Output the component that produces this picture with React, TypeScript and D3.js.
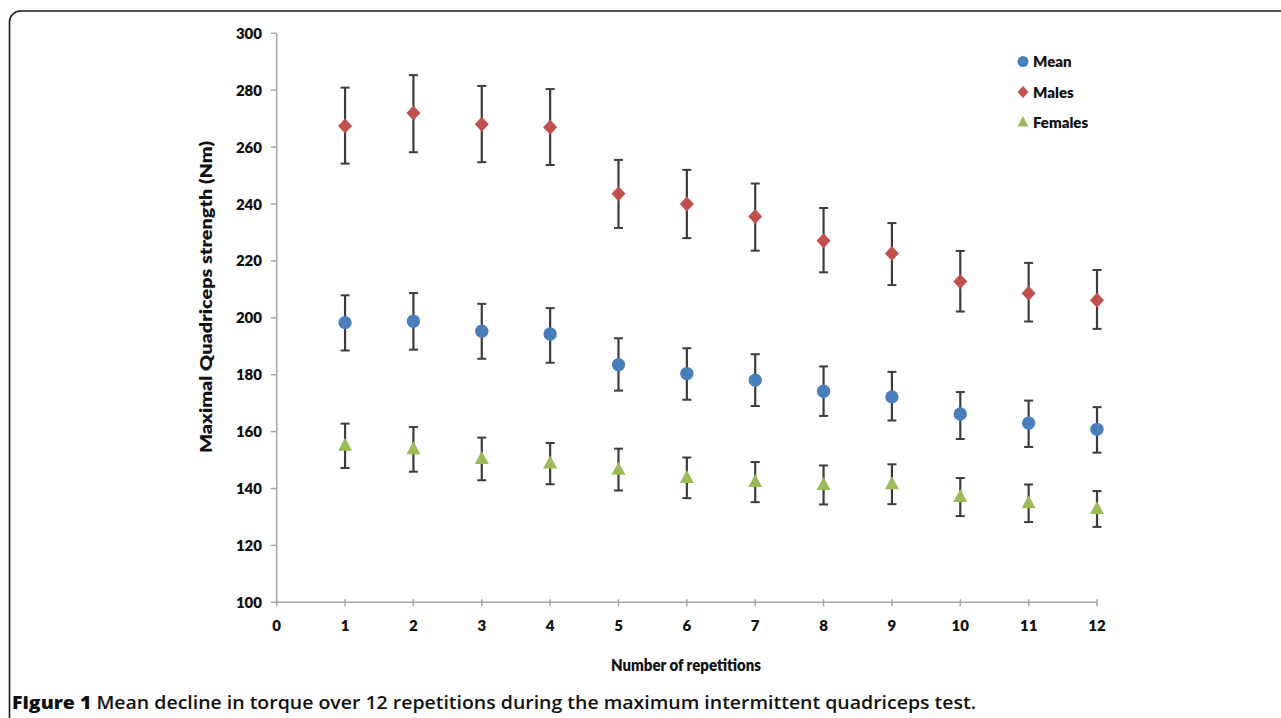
import React from "react";
import * as d3 from "d3";

const reps = [1, 2, 3, 4, 5, 6, 7, 8, 9, 10, 11, 12];

const meanValues = [198.3, 198.8, 195.3, 194.3, 183.5, 180.4, 178.1, 174.2, 172.2, 166.2, 163.0, 160.8];
const meanUpper = [207.9, 208.7, 204.9, 203.4, 192.8, 189.3, 187.2, 182.9, 181.0, 173.9, 170.9, 168.6];
const meanLower = [188.5, 188.8, 185.6, 184.2, 174.4, 171.2, 169.0, 165.5, 163.9, 157.4, 154.6, 152.6];

const maleValues = [267.4, 272.0, 268.0, 267.0, 243.6, 240.0, 235.6, 227.1, 222.6, 212.8, 208.6, 206.2];
const maleUpper = [280.9, 285.3, 281.5, 280.4, 255.5, 252.0, 247.2, 238.6, 233.3, 223.5, 219.3, 216.8];
const maleLower = [254.2, 258.2, 254.7, 253.7, 231.6, 228.0, 223.6, 216.0, 211.5, 202.2, 198.7, 196.1];

const femaleValues = [155.0, 153.8, 150.4, 148.8, 146.6, 143.7, 142.3, 141.2, 141.5, 137.0, 134.8, 132.8];
const femaleUpper = [162.8, 161.6, 157.9, 156.0, 154.0, 150.9, 149.3, 148.1, 148.5, 143.7, 141.4, 139.1];
const femaleLower = [147.2, 145.9, 142.9, 141.5, 139.3, 136.6, 135.2, 134.4, 134.5, 130.3, 128.2, 126.5];

const xTicks = [0, 1, 2, 3, 4, 5, 6, 7, 8, 9, 10, 11, 12];
const yTicks = [100, 120, 140, 160, 180, 200, 220, 240, 260, 280, 300];

const legendLabels = ["Mean", "Males", "Females"];

const W = 1281;
const H = 718;

const x = d3.scaleLinear().domain([0, 12]).range([276.7, 1097]);
const y = d3.scaleLinear().domain([100, 300]).range([602.3, 33.3]);

const BLUE = "#4a7ebb";
const RED = "#c0504d";
const GREEN = "#9bbb59";
const BAR = "#3c3c3c";
const AXIS = "#a6a6a6";
const FONT = "Lato, 'Open Sans', sans-serif";

const circlePath = d3.symbol().type(d3.symbolCircle).size(140)() as string;
const diamondPath = "M0,-7.5L7,0L0,7.5L-7,0Z";
const trianglePath = "M0,-8L7,5L-7,5Z";

const legendShapes = [
  d3.symbol().type(d3.symbolCircle).size(95)() as string,
  "M0,-6L5.5,0L0,6L-5.5,0Z",
  "M0,-6.5L5.5,4L-5.5,4Z",
];
const legendColors = [BLUE, RED, GREEN];

type Series = { vals: number[]; up: number[]; lo: number[]; path: string; color: string };

const series: Series[] = [
  { vals: maleValues, up: maleUpper, lo: maleLower, path: diamondPath, color: RED },
  { vals: meanValues, up: meanUpper, lo: meanLower, path: circlePath, color: BLUE },
  { vals: femaleValues, up: femaleUpper, lo: femaleLower, path: trianglePath, color: GREEN },
];

export default function App() {
  return (
    <div style={{ position: "fixed", left: 0, top: 0, width: W, height: H, background: "#fff" }}>
      <svg width={W} height={H} viewBox={`0 0 ${W} ${H}`} style={{ display: "block" }}>
        <rect x={0} y={0} width={W} height={H} fill="#fff" />
        {/* frame */}
        <path d={`M9.5,${H + 5}L9.5,22A11,11 0 0 1 20.5,11L${W + 5},11`} fill="none" stroke="#1a1a1a" strokeWidth={1.6} />

        {/* axes */}
        <line x1={x(0)} x2={x(0)} y1={y(300)} y2={y(100)} stroke={AXIS} strokeWidth={1.5} />
        <line x1={x(0)} x2={x(12)} y1={y(100)} y2={y(100)} stroke={AXIS} strokeWidth={1.5} />
        {yTicks.map((t) => (
          <g key={"yt" + t}>
            <line x1={x(0) - 6} x2={x(0)} y1={y(t)} y2={y(t)} stroke={AXIS} strokeWidth={1.5} />
            <text x={262} y={y(t) + 5.5} textAnchor="end" fontFamily={FONT} fontWeight={800} fontSize={15} fill="#111">
              {t}
            </text>
          </g>
        ))}
        {xTicks.map((t) => (
          <g key={"xt" + t}>
            <line x1={x(t)} x2={x(t)} y1={y(100) - 3} y2={y(100) + 4} stroke={AXIS} strokeWidth={1.5} />
            <text x={x(t)} y={630.5} textAnchor="middle" fontFamily={FONT} fontWeight={800} fontSize={15} fill="#111">
              {t}
            </text>
          </g>
        ))}

        {/* error bars and markers */}
        {series.map((s, si) => (
          <g key={"s" + si}>
            {reps.map((r, i) => (
              <g key={"e" + i}>
                <line x1={x(r)} x2={x(r)} y1={y(s.up[i])} y2={y(s.lo[i])} stroke={BAR} strokeWidth={2.2} />
                <line x1={x(r) - 4.5} x2={x(r) + 4.5} y1={y(s.up[i])} y2={y(s.up[i])} stroke={BAR} strokeWidth={2} />
                <line x1={x(r) - 4.5} x2={x(r) + 4.5} y1={y(s.lo[i])} y2={y(s.lo[i])} stroke={BAR} strokeWidth={2} />
              </g>
            ))}
            {reps.map((r, i) => (
              <path key={"m" + i} d={s.path} transform={`translate(${x(r)},${y(s.vals[i])})`} fill={s.color} />
            ))}
          </g>
        ))}

        {/* legend */}
        {legendLabels.map((l, i) => (
          <g key={"lg" + i} transform={`translate(1023,${61.5 + i * 30.5})`}>
            <path d={legendShapes[i]} fill={legendColors[i]} />
            <text x={10} y={5.5} fontFamily={FONT} fontWeight={800} fontSize={15} fill="#111">
              {l}
            </text>
          </g>
        ))}

        {/* axis titles */}
        <text x={686} y={671} textAnchor="middle" fontFamily={FONT} fontWeight={800} fontSize={16} fill="#111" textLength={150} lengthAdjust="spacingAndGlyphs">
          Number of repetitions
        </text>
        <text
          transform={`translate(212,297) rotate(-90)`}
          textAnchor="middle"
          fontFamily={FONT}
          fontWeight={800}
          fontSize={16}
          fill="#111"
          textLength={312}
          lengthAdjust="spacingAndGlyphs"
        >
          Maximal Quadriceps strength (Nm)
        </text>

        {/* caption */}
        <text x={12} y={709} fontFamily={"'Open Sans', Lato, sans-serif"} fontSize={18} fontWeight={600} fill="#111" textLength={964} lengthAdjust="spacingAndGlyphs">
          <tspan fontWeight={800}>Figure 1</tspan>
          <tspan> Mean decline in torque over 12 repetitions during the maximum intermittent quadriceps test.</tspan>
        </text>
      </svg>
    </div>
  );
}
